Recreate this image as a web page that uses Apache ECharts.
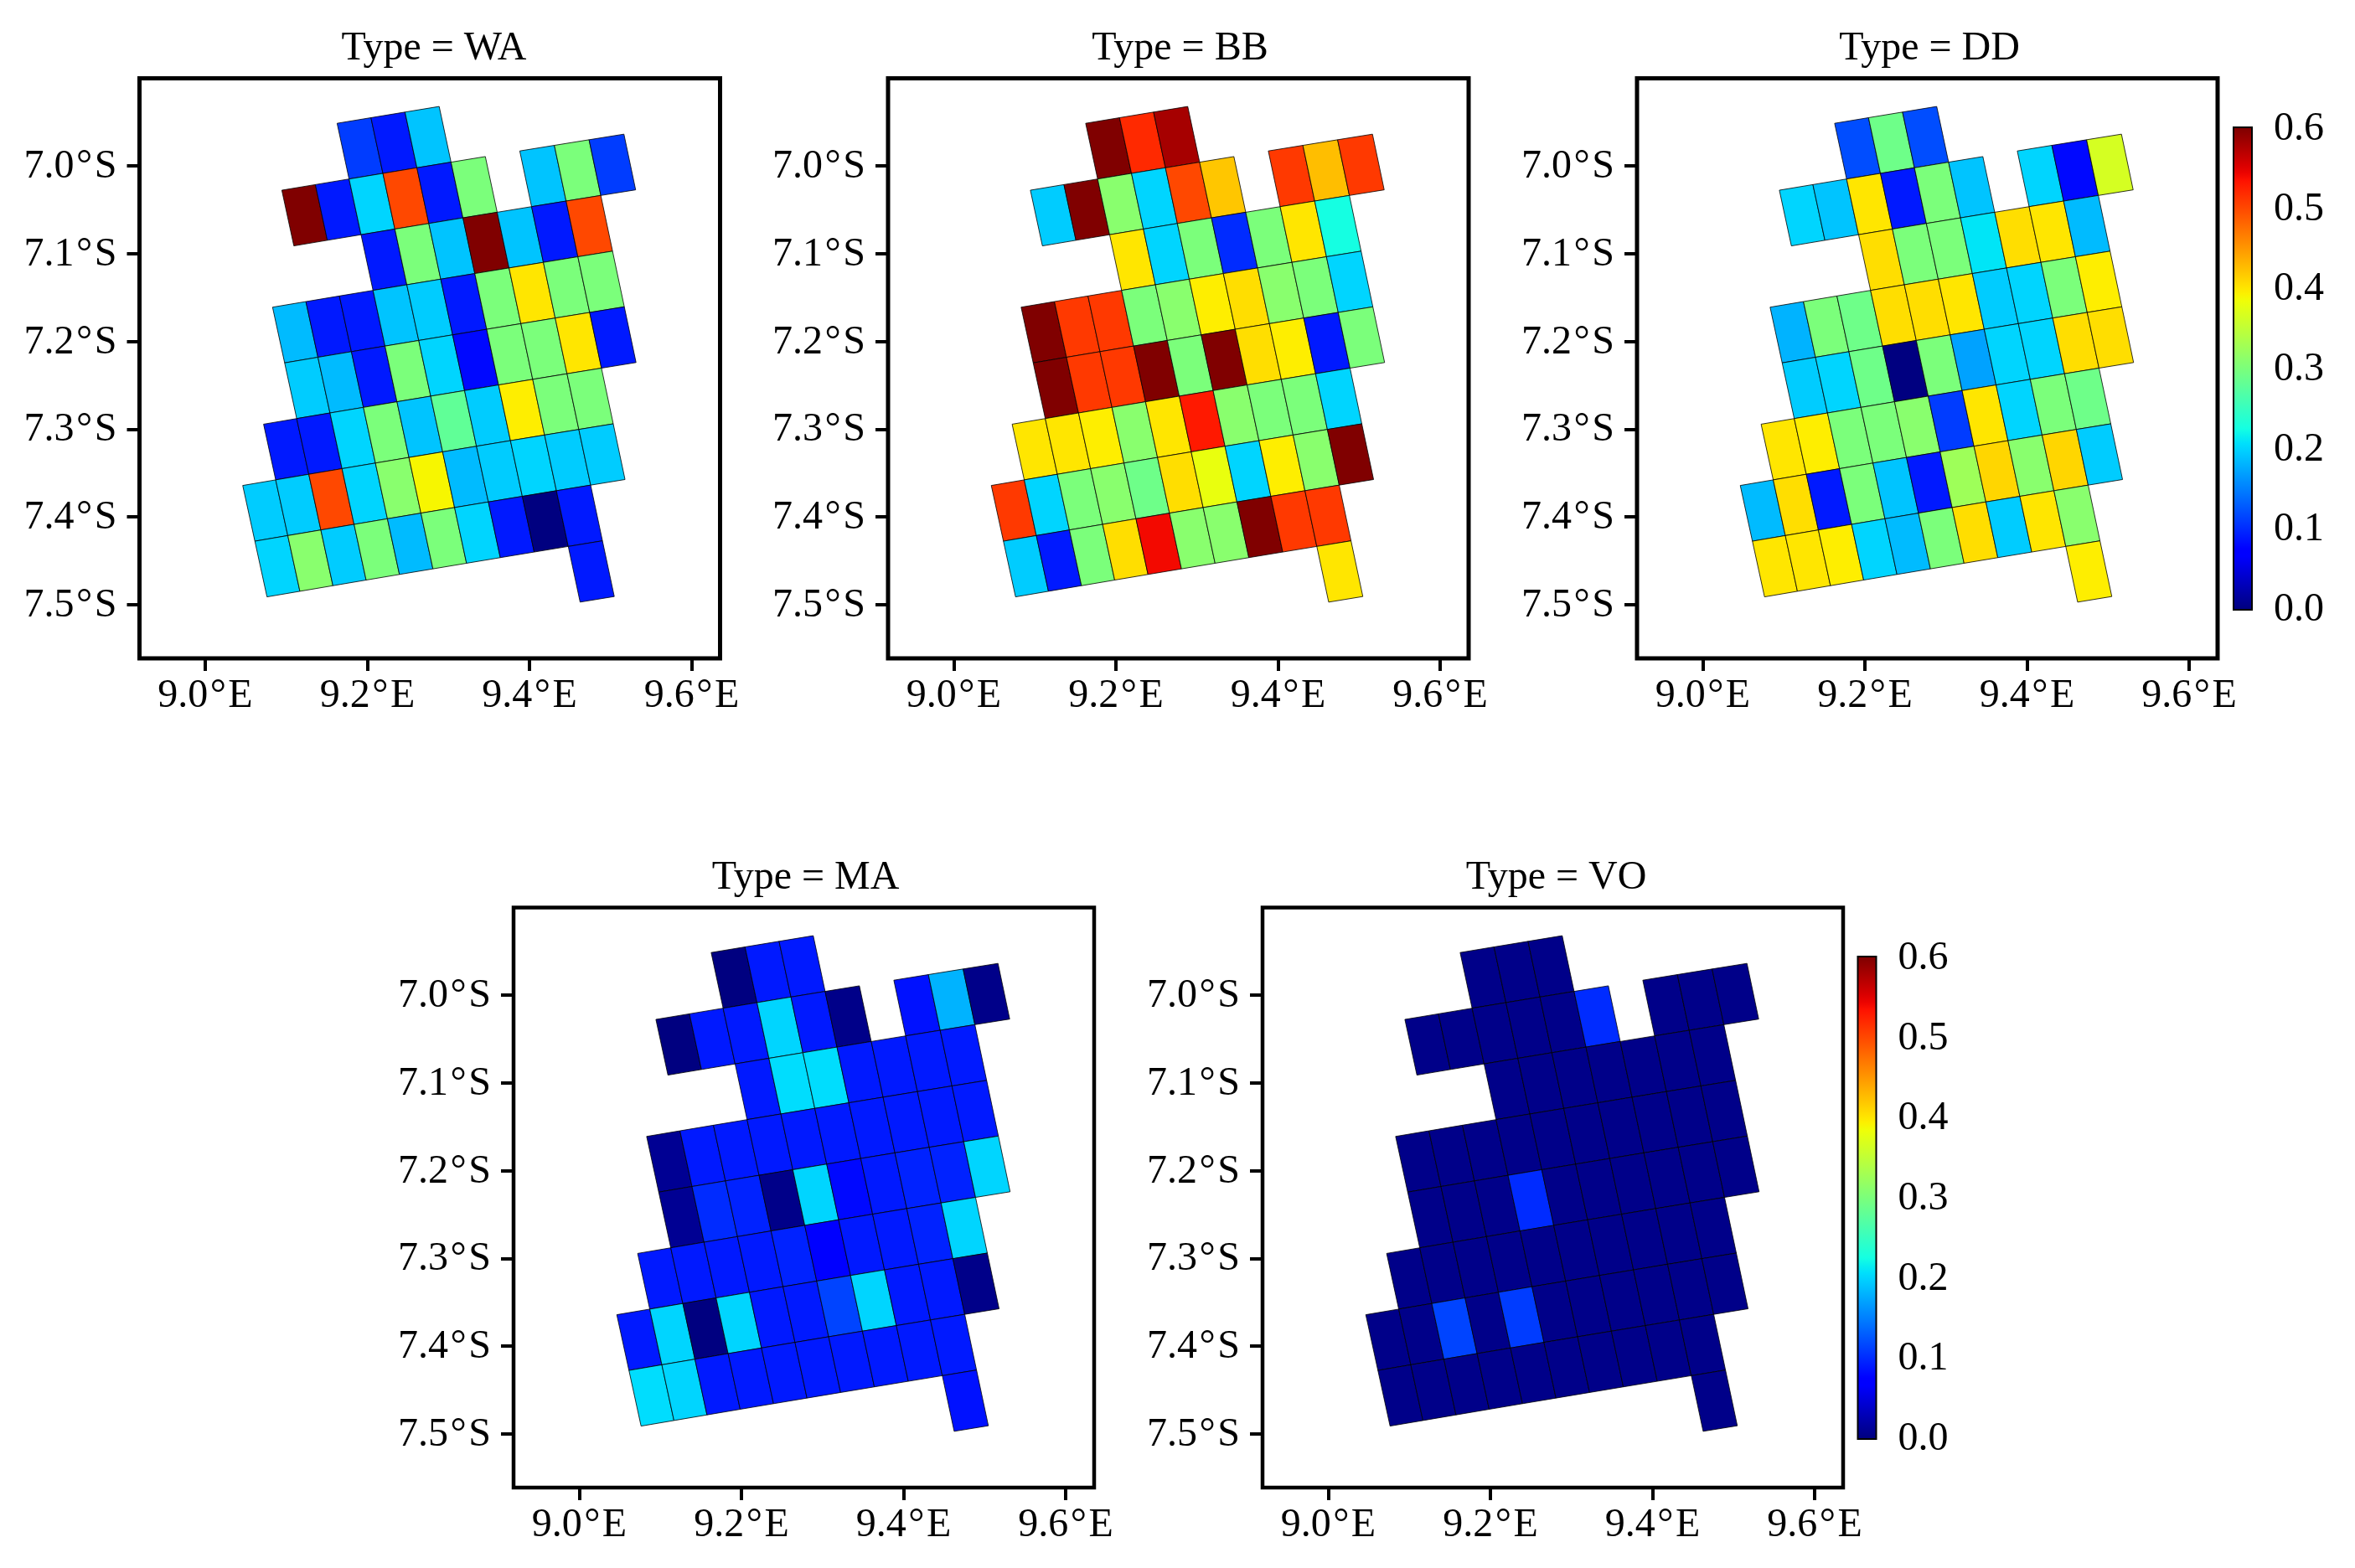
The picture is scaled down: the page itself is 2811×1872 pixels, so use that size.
<!DOCTYPE html>
<html>
<head>
<meta charset="utf-8">
<title>Type maps</title>
<script src="https://cdn.jsdelivr.net/npm/echarts@6/dist/echarts.min.js"></script>
<style>html,body{margin:0;padding:0;background:#fff}#c{width:2811px;height:1872px}</style>
</head>
<body>
<div id="c"></div>
<script>
// ---- tick labels ----
const lonTicks = [9.0, 9.2, 9.4, 9.6];
const latTicks = [7.0, 7.1, 7.2, 7.3, 7.4, 7.5];
const barTicks = [0, 0.1, 0.2, 0.3, 0.4, 0.5, 0.6];

// ---- cell layout: rows of the tilted grid, each listing its column indexes ----
const row0 = [0, 1, 2];
const row1 = [-2, -1, 0, 1, 2, 3, 5, 6, 7];
const row2 = [0, 1, 2, 3, 4, 5, 6];
const row3 = [-3, -2, -1, 0, 1, 2, 3, 4, 5, 6];
const row4 = [-3, -2, -1, 0, 1, 2, 3, 4, 5, 6];
const row5 = [-4, -3, -2, -1, 0, 1, 2, 3, 4, 5];
const row6 = [-5, -4, -3, -2, -1, 0, 1, 2, 3, 4, 5];
const row7 = [-5, -4, -3, -2, -1, 0, 1, 2, 3, 4];
const row8 = [4];
const gridRows = [row0, row1, row2, row3, row4, row5, row6, row7, row8];

// ---- series values, row by row ----
const typeNames = ['WA', 'BB', 'DD', 'MA', 'VO'];
const valuesWA = [
  .11, .09, .19,
  .6, .09, .2, .5, .09, .3, .19, .3, .11,
  .09, .3, .19, .6, .19, .09, .5,
  .185, .09, .09, .19, .195, .09, .3, .40, .3, .3,
  .195, .185, .09, .3, .2, .08, .3, .3, .40, .09,
  .09, .09, .2, .3, .19, .28, .195, .395, .3, .3,
  .195, .195, .5, .2, .31, .39, .185, .195, .2, .195, .195,
  .2, .31, .195, .3, .185, .3, .2, .09, 0, .09,
  .09];
const valuesBB = [
  .6, .52, .58,
  .195, .6, .31, .2, .5, .42, .51, .425, .51,
  .40, .2, .3, .1, .3, .40, .225,
  .6, .51, .51, .3, .31, .395, .405, .31, .3, .2,
  .6, .51, .51, .6, .3, .6, .405, .395, .09, .3,
  .40, .40, .395, .31, .40, .53, .31, .3, .3, .2,
  .51, .2, .3, .31, .29, .405, .38, .2, .395, .31, .6,
  .195, .09, .3, .405, .54, .31, .31, .6, .51, .51,
  .40];
const valuesDD = [
  .12, .29, .12,
  .2, .19, .40, .09, .3, .19, .2, .08, .365,
  .405, .3, .3, .21, .405, .40, .185,
  .18, .3, .29, .405, .405, .40, .195, .2, .3, .395,
  .195, .2, .29, 0, .3, .17, .2, .2, .405, .405,
  .40, .395, .3, .3, .31, .11, .40, .2, .3, .29,
  .185, .405, .09, .3, .19, .09, .325, .41, .31, .41, .195,
  .40, .40, .395, .2, .185, .3, .405, .195, .40, .31,
  .395];
const valuesMA = [
  0, .09, .09,
  0, .09, .09, .2, .09, .005, .085, .18, .005,
  .09, .205, .205, .09, .09, .09, .09,
  .01, .09, .09, .09, .09, .09, .09, .09, .09, .09,
  .01, .10, .095, .005, .2, .08, .09, .095, .095, .2,
  .09, .09, .09, .09, .095, .075, .09, .09, .095, .2,
  .09, .2, 0, .2, .09, .09, .115, .2, .09, .09, .005,
  .205, .2, .09, .09, .09, .09, .09, .09, .09, .09,
  .085];
const valuesVO = [
  .005, .005, .005,
  .005, .005, .005, .005, .005, .1, .005, .005, .005,
  .005, .005, .005, .005, .005, .005, .005,
  .005, .005, .005, .005, .005, .005, .005, .005, .005, .005,
  .005, .005, .005, .1, .005, .005, .005, .005, .005, .005,
  .005, .005, .005, .005, .005, .005, .005, .005, .005, .005,
  .005, .005, .115, .005, .11, .005, .005, .005, .005, .005, .005,
  .005, .005, .005, .005, .005, .005, .005, .005, .005, .005,
  .005];
const typeValues = [valuesWA, valuesBB, valuesDD, valuesMA, valuesVO];

// ---- geometry of the tilted grid, in degrees ----
const ORIGIN = [9.1627, 6.9519];
const STEP_I = [0.04165, -0.00638];
const STEP_J = [0.01477, 0.0634];
const BOW = 0.00009, TAPER = -0.00004;
function node(i, j) {
  return [
    ORIGIN[0] + STEP_I[0] * i + STEP_J[0] * j + BOW * i * i + TAPER * (j - 1) * i,
    ORIGIN[1] + STEP_I[1] * i + STEP_J[1] * j
  ];
}

// ---- jet colour map ----
const VMAX = 0.6;
const jetR = [[0, 0], [.35, 0], [.66, 1], [.89, 1], [1, .5]];
const jetG = [[0, 0], [.125, 0], [.375, 1], [.64, 1], [.91, 0], [1, 0]];
const jetB = [[0, .5], [.11, 1], [.34, 1], [.65, 0], [1, 0]];
function lerp(tbl, t) {
  for (let k = 1; k < tbl.length; k++) {
    if (t <= tbl[k][0]) {
      const a = tbl[k - 1], b = tbl[k];
      return a[1] + (b[1] - a[1]) * (t - a[0]) / (b[0] - a[0]);
    }
  }
  return tbl[tbl.length - 1][1];
}
function jet(t) {
  t = Math.max(0, Math.min(1, t));
  return 'rgb(' + [jetR, jetG, jetB].map(c => Math.round(255 * lerp(c, t))).join(',') + ')';
}

// ---- layout ----
const FONT = 'Liberation Serif';
const FS = 48;
const panelBox = [
  { left: 166.5, top: 93.5, lw: 5 },
  { left: 1060, top: 93.5, lw: 5 },
  { left: 1954, top: 93.5, lw: 5 },
  { left: 613, top: 1083.5, lw: 4.5 },
  { left: 1507, top: 1083.5, lw: 4.5 }
];
const titleShift = [0, -3, -2.5, -3, -1];
const W = 693, H = 692.5;
const barBox = [
  { left: 2667, top: 153 },
  { left: 2218.5, top: 1143 }
];
const richText = {
  a: { fontFamily: FONT, fontSize: FS, color: '#000' },
  d: { fontFamily: FONT, fontSize: FS, color: '#000', padding: [0, 2.5, 0, 2.5] }
};

const grids = [], xAxes = [], yAxes = [], series = [], titles = [];

panelBox.forEach((b, k) => {
  grids.push({ left: b.left, top: b.top, width: W, height: H, show: true, borderColor: '#000', borderWidth: b.lw, backgroundColor: '#fff', containLabel: false });
  xAxes.push({
    type: 'value', gridIndex: k, min: 8.919, max: 9.635, position: 'bottom',
    splitLine: { show: false }, axisLine: { show: false },
    axisTick: { show: true, length: 15, lineStyle: { color: '#000', width: 4 }, customValues: lonTicks },
    axisLabel: { show: true, color: '#000', fontFamily: FONT, fontSize: FS, margin: 21.5, customValues: lonTicks, rich: richText,
      formatter: v => '{a|' + v.toFixed(1) + '}{d|°}{a|E}' }
  });
  yAxes.push({
    type: 'value', gridIndex: k, min: 6.9007, max: 7.561, inverse: true, position: 'left',
    splitLine: { show: false }, axisLine: { show: false },
    axisTick: { show: true, length: 15, lineStyle: { color: '#000', width: 4 }, customValues: latTicks },
    axisLabel: { show: true, color: '#000', fontFamily: FONT, fontSize: FS, margin: 27, padding: [3, 0, 0, 0], customValues: latTicks, rich: richText,
      formatter: v => '{a|' + v.toFixed(1) + '}{d|°}{a|S}' }
  });
  titles.push({
    text: 'Type = ' + typeNames[k], left: b.left + W / 2 + titleShift[k], top: b.top - 64, textAlign: 'center',
    textStyle: { color: '#000', fontFamily: FONT, fontSize: 48, fontWeight: 'normal' }
  });
  const data = [];
  let n = 0;
  gridRows.forEach((cols, j) => cols.forEach(i => {
    const c = node(i + .5, j + .5);
    data.push([c[0], c[1], typeValues[k][n++], i, j]);
  }));
  series.push({
    type: 'custom', coordinateSystem: 'cartesian2d', xAxisIndex: k, yAxisIndex: k,
    encode: { x: 0, y: 1 }, clip: false, silent: true, data,
    renderItem: (params, api) => {
      const i = api.value(3), j = api.value(4);
      const pts = [node(i, j), node(i + 1, j), node(i + 1, j + 1), node(i, j + 1)].map(p => api.coord(p));
      return { type: 'polygon', shape: { points: pts }, style: { fill: jet(api.value(2) / VMAX), stroke: '#000', lineWidth: 0.8 } };
    }
  });
});

barBox.forEach((b, q) => {
  const k = panelBox.length + q;
  grids.push({ left: b.left, top: b.top, width: 20, height: 574, show: true, borderColor: '#000', borderWidth: 4, backgroundColor: 'transparent' });
  xAxes.push({ type: 'value', gridIndex: k, min: 0, max: 1, show: false });
  yAxes.push({
    type: 'value', gridIndex: k, min: 0, max: VMAX, position: 'right',
    splitLine: { show: false }, axisLine: { show: false },
    axisTick: { show: true, length: 14, lineStyle: { color: '#000', width: 4 }, customValues: barTicks },
    axisLabel: { show: true, color: '#000', fontFamily: FONT, fontSize: FS, margin: 27, padding: [3, 0, 0, 0], customValues: barTicks, rich: richText,
      formatter: v => '{a|' + v.toFixed(1) + '}' }
  });
  const stops = [];
  for (let s = 0; s <= 64; s++) stops.push({ offset: s / 64, color: jet(1 - s / 64) });
  series.push({
    type: 'custom', coordinateSystem: 'cartesian2d', xAxisIndex: k, yAxisIndex: k, silent: true,
    encode: { x: 0, y: 1 }, data: [[0, VMAX]], z: 1,
    renderItem: (params, api) => {
      const a = api.coord([0, VMAX]), z = api.coord([1, 0]);
      return { type: 'rect', shape: { x: a[0], y: a[1], width: z[0] - a[0], height: z[1] - a[1] },
        style: { fill: new echarts.graphic.LinearGradient(0, 0, 0, 1, stops) } };
    }
  });
});

const chart = echarts.init(document.getElementById('c'), null, { renderer: 'canvas', width: 2811, height: 1872 });
chart.setOption({ animation: false, backgroundColor: '#fff', title: titles, grid: grids, xAxis: xAxes, yAxis: yAxes, series });
</script>
</body>
</html>
